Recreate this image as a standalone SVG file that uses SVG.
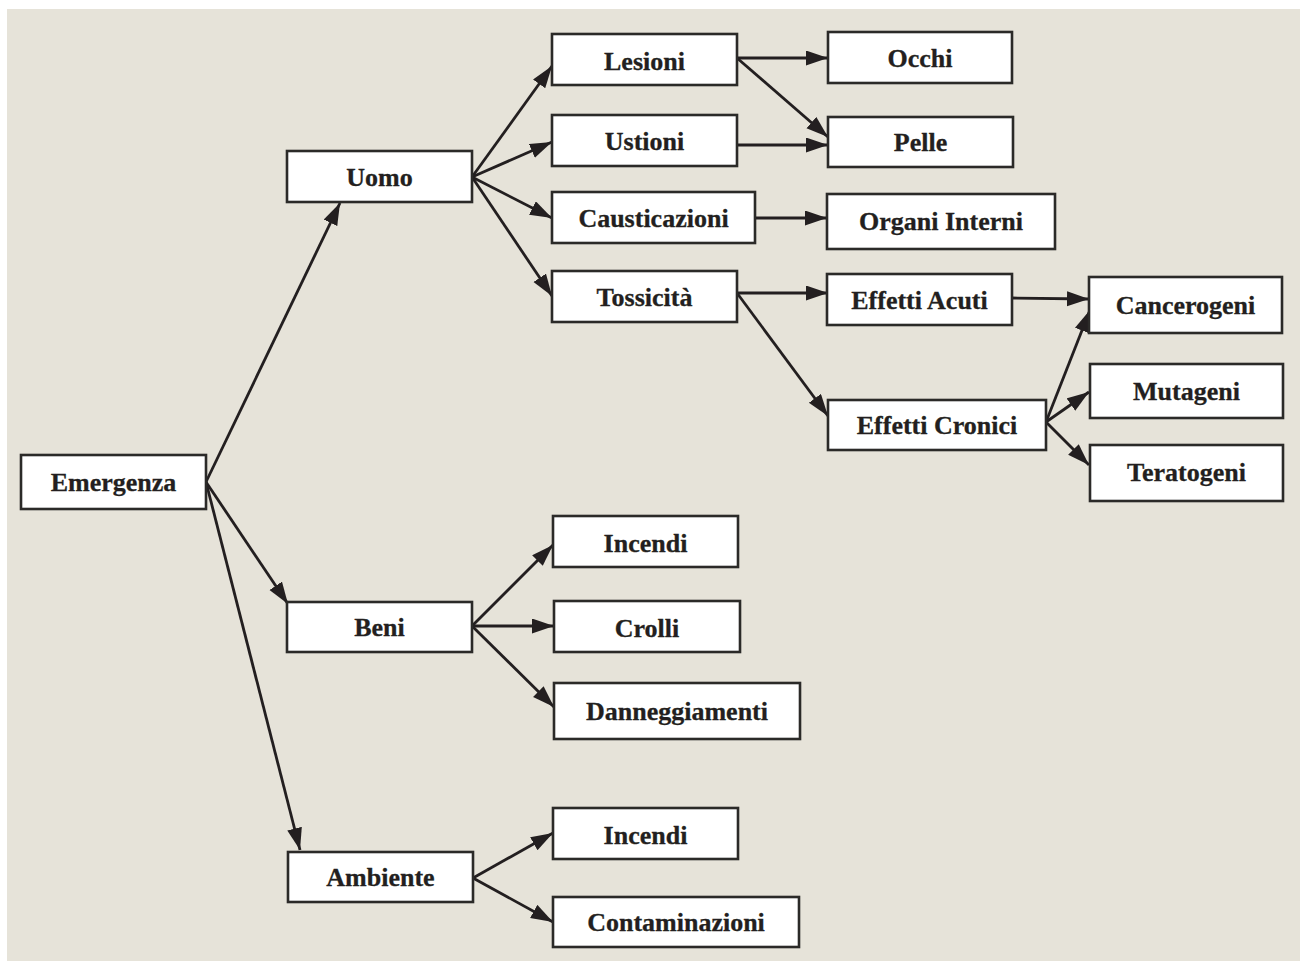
<svg xmlns="http://www.w3.org/2000/svg" width="1300" height="961" viewBox="0 0 1300 961">
<defs>
<marker id="ah" markerUnits="userSpaceOnUse" markerWidth="24" markerHeight="16" refX="22" refY="7.5" orient="auto">
<path d="M0,0 L22,7.5 L0,15 z" fill="#231f20"/>
</marker>
<style>
.box{fill:#ffffff;stroke:#2b2a28;stroke-width:2.6}
.lbl{font-family:"Liberation Serif","Times New Roman",serif;font-weight:bold;font-size:26px;fill:#231f20;text-anchor:middle;stroke:#231f20;stroke-width:0.3}
.con line{stroke:#231f20;stroke-width:2.8;marker-end:url(#ah)}
</style>
</defs>
<rect x="0" y="0" width="1300" height="961" fill="#ffffff"/>
<rect x="7" y="9" width="1293" height="952" fill="#e6e3d9"/>
<g class="con" id="connectors">
<line x1="206" y1="482" x2="340" y2="203"/>
<line x1="206" y1="482" x2="288" y2="604"/>
<line x1="206" y1="482" x2="300" y2="850"/>
<line x1="472" y1="177" x2="552" y2="66"/>
<line x1="472" y1="177" x2="552" y2="142"/>
<line x1="472" y1="177" x2="552" y2="218"/>
<line x1="472" y1="177" x2="552" y2="296"/>
<line x1="737" y1="58" x2="828" y2="58"/>
<line x1="737" y1="58" x2="828" y2="137"/>
<line x1="738" y1="145" x2="828" y2="145"/>
<line x1="755" y1="218" x2="827" y2="218"/>
<line x1="737" y1="293" x2="828" y2="293"/>
<line x1="737" y1="293" x2="828" y2="416"/>
<line x1="1012" y1="298" x2="1089" y2="299"/>
<line x1="1046" y1="422" x2="1090" y2="310"/>
<line x1="1046" y1="422" x2="1089" y2="392"/>
<line x1="1046" y1="422" x2="1089" y2="465"/>
<line x1="472" y1="626" x2="553" y2="545"/>
<line x1="472" y1="626" x2="554" y2="626"/>
<line x1="472" y1="626" x2="554" y2="707"/>
<line x1="473" y1="878" x2="553" y2="833"/>
<line x1="473" y1="878" x2="553" y2="922"/>
</g>
<g id="emergenza"><rect class="box" x="21" y="455" width="185" height="54"/><text class="lbl" x="113.5" y="491">Emergenza</text></g>
<g id="uomo"><rect class="box" x="287" y="151" width="185" height="51"/><text class="lbl" x="379.5" y="186">Uomo</text></g>
<g id="beni"><rect class="box" x="287" y="602" width="185" height="50"/><text class="lbl" x="379.5" y="636">Beni</text></g>
<g id="ambiente"><rect class="box" x="288" y="852" width="185" height="50"/><text class="lbl" x="380.5" y="886">Ambiente</text></g>
<g id="lesioni"><rect class="box" x="552" y="34" width="185" height="51"/><text class="lbl" x="644.5" y="70">Lesioni</text></g>
<g id="ustioni"><rect class="box" x="552" y="115" width="185" height="51"/><text class="lbl" x="644.5" y="150">Ustioni</text></g>
<g id="causticazioni"><rect class="box" x="552" y="192" width="203" height="51"/><text class="lbl" x="653.5" y="227">Causticazioni</text></g>
<g id="tossicita"><rect class="box" x="552" y="271" width="185" height="51"/><text class="lbl" x="644.5" y="306">Tossicità</text></g>
<g id="occhi"><rect class="box" x="828" y="32" width="184" height="51"/><text class="lbl" x="920" y="67">Occhi</text></g>
<g id="pelle"><rect class="box" x="828" y="117" width="185" height="50"/><text class="lbl" x="920.5" y="151">Pelle</text></g>
<g id="organi-interni"><rect class="box" x="827" y="194" width="228" height="55"/><text class="lbl" x="941" y="230">Organi Interni</text></g>
<g id="effetti-acuti"><rect class="box" x="827" y="274" width="185" height="51"/><text class="lbl" x="919.5" y="309">Effetti Acuti</text></g>
<g id="effetti-cronici"><rect class="box" x="828" y="400" width="218" height="50"/><text class="lbl" x="937" y="434">Effetti Cronici</text></g>
<g id="cancerogeni"><rect class="box" x="1089" y="277" width="193" height="56"/><text class="lbl" x="1185.5" y="314">Cancerogeni</text></g>
<g id="mutageni"><rect class="box" x="1090" y="364" width="193" height="54"/><text class="lbl" x="1186.5" y="400">Mutageni</text></g>
<g id="teratogeni"><rect class="box" x="1090" y="445" width="193" height="56"/><text class="lbl" x="1186.5" y="481">Teratogeni</text></g>
<g id="incendi-beni"><rect class="box" x="553" y="516" width="185" height="51"/><text class="lbl" x="645.5" y="552">Incendi</text></g>
<g id="crolli"><rect class="box" x="554" y="601" width="186" height="51"/><text class="lbl" x="647" y="637">Crolli</text></g>
<g id="danneggiamenti"><rect class="box" x="554" y="683" width="246" height="56"/><text class="lbl" x="677" y="720">Danneggiamenti</text></g>
<g id="incendi-ambiente"><rect class="box" x="553" y="808" width="185" height="51"/><text class="lbl" x="645.5" y="844">Incendi</text></g>
<g id="contaminazioni"><rect class="box" x="553" y="897" width="246" height="50"/><text class="lbl" x="676" y="931">Contaminazioni</text></g>
</svg>
